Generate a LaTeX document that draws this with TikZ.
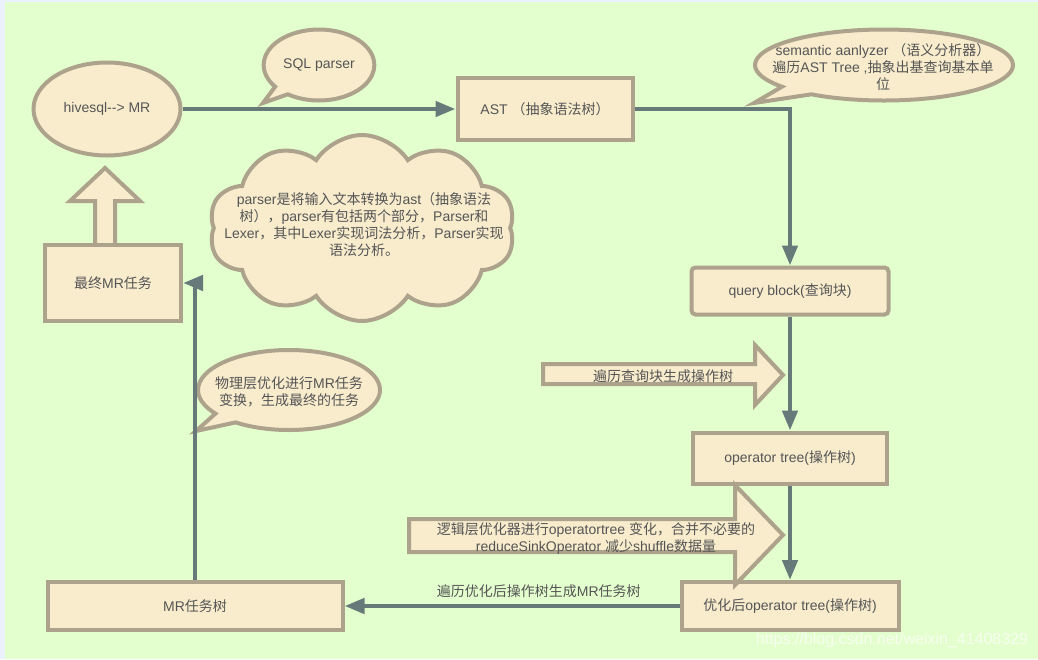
\documentclass[tikz,border=0pt]{standalone}
\usepackage{fontspec}
\setmainfont{Liberation Sans}
\newfontfamily\latinfont{Liberation Sans}
\newfontfamily\cjkfont{Noto Sans CJK SC}
\usetikzlibrary{arrows.meta,shapes.geometric,shapes.callouts,shapes.symbols}

\definecolor{fond}{RGB}{228,255,206}
\definecolor{bordure}{RGB}{236,241,255}
\definecolor{beige}{RGB}{248,236,205}
\definecolor{contour}{RGB}{173,163,140}
\definecolor{ardoise}{RGB}{104,121,122}
\definecolor{texte}{RGB}{85,85,85}

% Police chinoise
\XeTeXinterchartokenstate=1
\newXeTeXintercharclass\cjkclass
\newcount\cjkcnt
\def\cjkrange#1#2{\cjkcnt=#1\relax
  \loop\XeTeXcharclass\cjkcnt=\cjkclass
  \ifnum\cjkcnt<#2\advance\cjkcnt by 1\repeat}
\cjkrange{"3000}{"303F}
\cjkrange{"4E00}{"9FFF}
\cjkrange{"FF00}{"FFEF}
\XeTeXinterchartoks 0 \cjkclass = {\cjkfont}
\XeTeXinterchartoks 4095 \cjkclass = {\cjkfont}
\XeTeXinterchartoks \cjkclass 0 = {\latinfont}
\XeTeXinterchartoks \cjkclass 4095 = {\latinfont}

\begin{document}
\begin{tikzpicture}[x=1pt,y=-1pt,
  boite/.style={draw=contour,fill=beige,line width=4pt,text=texte,
    font=\fontsize{14}{17}\selectfont},
  bulle/.style={ellipse callout,draw=contour,fill=beige,line width=4pt,
    callout pointer arc=18,text=texte,font=\fontsize{14}{17}\selectfont},
  fleche/.style={draw=ardoise,line width=4.5pt,-{Triangle[length=20pt,width=15pt]}},
  grosse/.style={draw=contour,fill=beige,line width=4pt},
  txt/.style={text=texte,align=center,inner sep=0pt,font=\fontsize{14}{17}\selectfont}]

% Fond
\useasboundingbox (0,0) rectangle (1038,659);
\fill[bordure] (0,0) rectangle (1038,659);
\fill[fond] (5,2) rectangle (1038,659);

% Nuage
\node[cloud,cloud puffs=10,cloud puff arc=115,aspect=1.65,draw=contour,fill=beige,
  line width=4pt,minimum width=306,minimum height=186] (nuage) at (362,228) {};
\node[txt] (nuagetxt) at (364,225) {parser是将输入文本转换为ast（抽象语法\\树），parser有包括两个部分，Parser和\\Lexer，其中Lexer实现词法分析，Parser实现\\语法分析。};

% Bulles
\node[bulle,minimum width=110,minimum height=71,callout absolute pointer={(263,103)}] (sqlp) at (319,65) {SQL parser};
\node[bulle,minimum width=258,minimum height=71,callout absolute pointer={(754,103)}] (sem) at (884,65) {};
\node[txt] (semtxt) at (883,67) {semantic aanlyzer （语义分析器）\\遍历AST Tree ,抽象出基查询基本单\\位};
\node[bulle,minimum width=182,minimum height=80,callout absolute pointer={(196,431)}] (phys) at (289,390) {};
\node[txt] (phystxt) at (289,392) {物理层优化进行MR任务\\变换，生成最终的任务};

% Grosse fleche vers le haut
\draw[grosse] (95,243) -- (95,201) -- (70,201) -- (105,168) -- (140,201) -- (115,201) -- (115,243);

% Noeuds
\node[boite,ellipse,minimum width=147,minimum height=93] (hive) at (107,109) {hivesql{-}{-}> MR};
\node[boite,minimum width=175,minimum height=62] (ast) at (545,109) {AST （抽象语法树）};
\node[boite,rounded corners=4pt,minimum width=197,minimum height=47] (query) at (790,291) {query block(查询块)};
\node[boite,minimum width=194,minimum height=51] (optree) at (790,458) {operator tree(操作树)};
\node[boite,minimum width=217,minimum height=48] (optim) at (790,606) {优化后operator tree(操作树)};
\node[boite,minimum width=295,minimum height=48] (mrtree) at (195,606) {MR任务树};
\node[boite,minimum width=136,minimum height=76] (final) at (113,283) {最终MR任务};

% Connecteurs
\draw[fleche] (hive.east) -- (ast.west);
\draw[fleche] (ast.east) -| (query.north);
\draw[fleche] (query.south) -- (optree.north);
\draw[fleche] (optree.south) -- (optim.north);
\draw[fleche] (optim.west) -- (mrtree.east) node[txt,pos=0.42,above=6pt] {遍历优化后操作树生成MR任务树};
\draw[fleche] (mrtree.north) |- (final.east);

% Grosses fleches
\draw[grosse] (543,364) -- (755,364) -- (755,345) -- (783,375) -- (755,405) -- (755,384) -- (543,384) -- cycle;
\node[txt] (parcours) at (663,376) {遍历查询块生成操作树};
\draw[grosse] (409,519) -- (735,519) -- (735,485) -- (783,535) -- (735,585) -- (735,552) -- (409,552) -- cycle;
\node[txt] (logique) at (596,538) {逻辑层优化器进行operatortree 变化，合并不必要的\\reduceSinkOperator 减少shuffle数据量};

% Filigrane
\node[text=white,opacity=0.7,font=\fontsize{16}{18}\selectfont] (filigrane) at (892,640) {https://blog.csdn.net/weixin\_41408329};

\end{tikzpicture}
\end{document}
